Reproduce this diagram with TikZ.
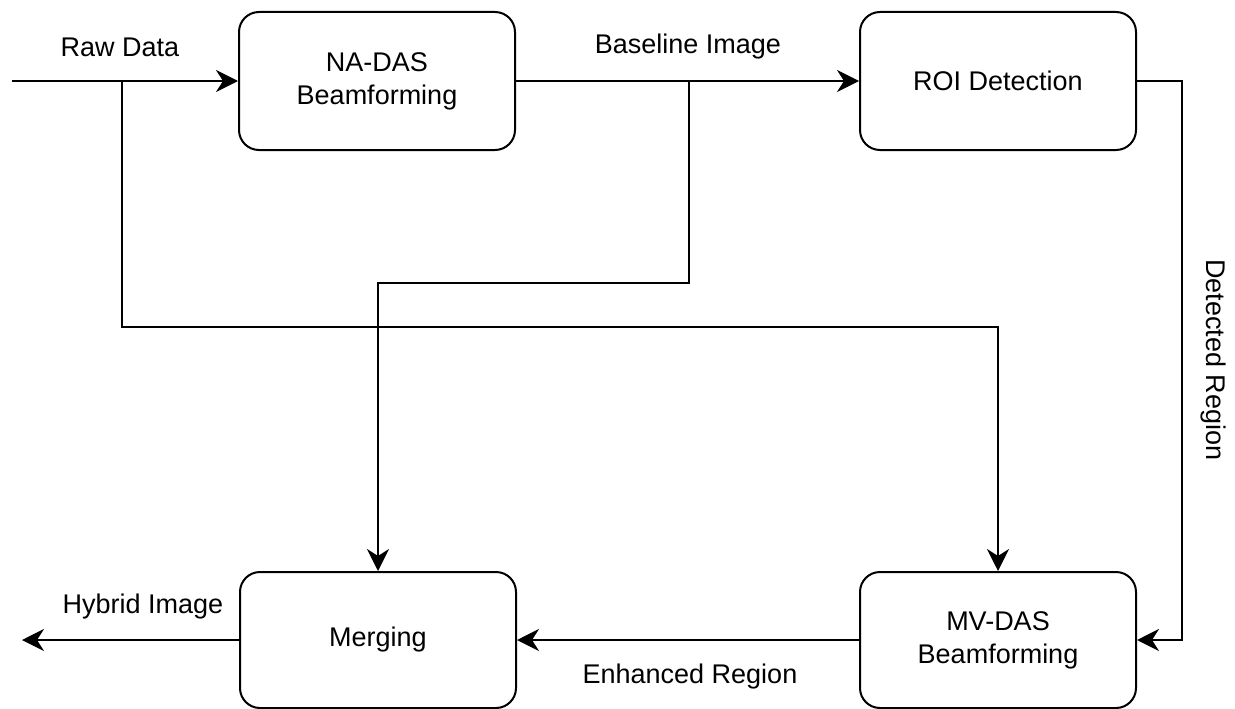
\documentclass[tikz,border=0pt]{standalone}
\usepackage{fontspec}
\setmainfont{Liberation Sans}
\usetikzlibrary{arrows.meta}
\begin{document}
\begin{tikzpicture}[x=1pt,y=-1pt,
  box/.style={draw=black, line width=2pt, rounded corners=20pt, minimum width=276pt, minimum height=138pt, align=center, inner sep=0pt, font=\fontsize{27}{33}\selectfont},
  lbl/.style={font=\fontsize{27}{33}\selectfont, inner sep=0pt},
  arr/.style={line width=2pt, -{Stealth[length=22pt,width=22pt,inset=7pt]}},
  ln/.style={line width=2pt}]
\useasboundingbox (0,0) rectangle (1235,709);
\node[box] (na) at (377,81) {NA-DAS\\Beamforming};
\node[box] (roi) at (998,81) {ROI Detection};
\node[box, minimum height=136pt] (merge) at (378,640) {Merging};
\node[box, minimum height=136pt] (mv) at (998,640) {MV-DAS\\Beamforming};
\coordinate (rawin) at (12,81);
\coordinate (rb) at (122,81);
\coordinate (bb) at (689,81);
\coordinate (h1) at (0,327);
\coordinate (h2) at (0,283);
\coordinate (vr) at (1182,0);
\coordinate (out) at (22,640);
% connectors
\draw[arr] (rawin) -- (na.west);
\draw[arr] (rb) -- (rb |- h1) -- (mv.north |- h1) -- (mv.north);
\draw[arr] (na.east) -- (roi.west);
\draw[arr] (bb) -- (bb |- h2) -- (merge.north |- h2) -- (merge.north);
\draw[arr] (roi.east) -- (vr |- roi.east) -- (vr |- mv.east) -- (mv.east);
\draw[arr] (mv.west) -- (merge.east);
\draw[arr] (merge.west) -- (out);
% labels
\node[lbl] (lraw) at (120,47) {Raw Data};
\node[lbl] (lbase) at (688,47) {Baseline Image};
\node[lbl, rotate=-90] (ldet) at (1213,360) {Detected Region};
\node[lbl] (lenh) at (690,677) {Enhanced Region};
\node[lbl] (lhyb) at (143,607) {Hybrid Image};
\end{tikzpicture}
\end{document}
